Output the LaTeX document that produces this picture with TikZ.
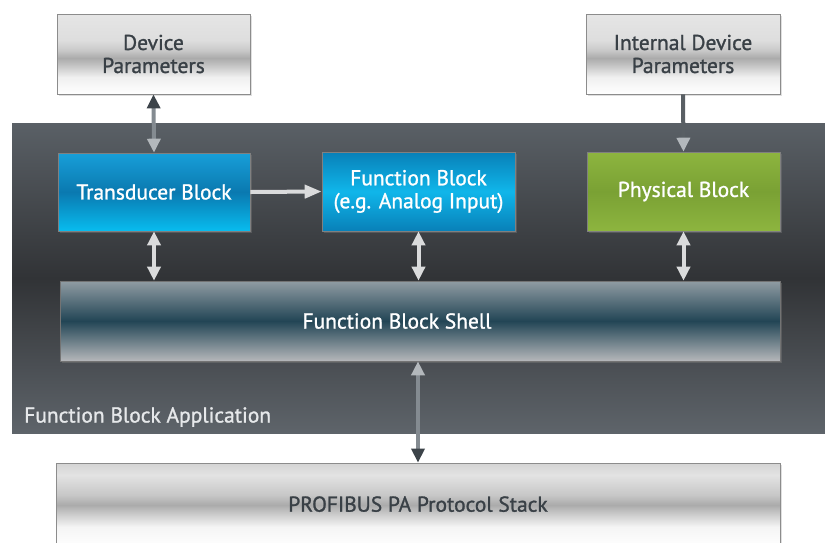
\documentclass[tikz,border=0pt]{standalone}
\usepackage{fontspec}
\setmainfont{PT Sans}[FakeBold=1.2]
\usetikzlibrary{arrows.meta,shadows}
\definecolor{txtdark}{HTML}{394046}
\definecolor{appTop}{HTML}{5A6066}
\definecolor{appMid}{HTML}{313336}
\definecolor{appBot}{HTML}{5E646A}
\definecolor{blueA}{HTML}{189FD8}
\definecolor{blueB}{HTML}{0A79B0}
\definecolor{blueC}{HTML}{08BCEF}
\definecolor{fbEdge}{HTML}{0880B8}
\definecolor{fbMid}{HTML}{10B6EA}
\definecolor{greenA}{HTML}{8DB53F}
\definecolor{greenB}{HTML}{7AA134}
\definecolor{shellTop}{HTML}{909CA3}
\definecolor{shellMid}{HTML}{224555}
\definecolor{shellBot}{HTML}{B5B7BA}
\definecolor{arrLight}{HTML}{DADBDC}
\definecolor{arrDark}{HTML}{3C4349}
\definecolor{arrMid}{HTML}{848B91}
\definecolor{arrPale}{HTML}{B3B8BC}
\definecolor{labelTxt}{HTML}{E6E8EA}
\pgfdeclareverticalshading{parband}{100bp}{%
  color(0bp)=(white); color(25bp)=(white);
  color(35.6bp)=(white!94!black);
  color(43.75bp)=(white!75!black);
  color(47.5bp)=(white!67!black);
  color(52.5bp)=(white!79!black);
  color(58.75bp)=(white!87!black);
  color(75bp)=(white!90!black); color(100bp)=(white!90!black)}
\pgfdeclareverticalshading{paband}{100bp}{%
  color(0bp)=(white); color(25bp)=(white);
  color(37.4bp)=(white!96!black);
  color(44.4bp)=(white!81!black);
  color(50.3bp)=(white!67!black);
  color(56.2bp)=(white!78!black);
  color(67.9bp)=(white!89!black);
  color(75bp)=(white!83!black); color(100bp)=(white!83!black)}
\tikzset{
  box/.style={inner sep=0pt, align=center, font=\fontsize{21.5}{23}\selectfont},
  greybox/.style={box, draw=black!45, line width=0.8pt, text=txtdark,
    shading=parband,
    drop shadow={shadow xshift=2pt, shadow yshift=-2pt, opacity=0.25}},
  bluebox/.style={box, draw=black!50, line width=0.6pt, text=white,
    drop shadow={shadow xshift=2pt, shadow yshift=-2pt, opacity=0.4}},
  tipLight/.tip={Triangle[width=13pt,length=14pt,color=arrLight]},
  tipDark/.tip={Triangle[width=13pt,length=14pt,color=arrDark]},
  tipPale/.tip={Triangle[width=13pt,length=14pt,color=arrPale]},
  lightarr/.style={line width=4pt, draw=arrLight},
}
\begin{document}
\begin{tikzpicture}[x=1pt,y=-1pt]
\useasboundingbox (0,0) rectangle (825,542);
\fill[white] (0,0) rectangle (825,542);
\begin{scope}
\clip (0,0) rectangle (825,542);

% application background
\node[inner sep=0pt, minimum width=813pt, minimum height=310pt,
      top color=appTop, bottom color=appBot, middle color=appMid]
      (app) at (418.5,278) {};
\node[anchor=west, inner sep=0pt, text=labelTxt, font=\fontsize{21.5}{23}\selectfont]
      (applbl) at (24,417) {Function Block Application};

% top parameter boxes
\node[greybox, minimum width=193pt, minimum height=80pt] (dev) at (153.5,54)
      {Device\\Parameters};
\node[greybox, minimum width=194pt, minimum height=80pt] (idev) at (683,54)
      {Internal Device\\Parameters};

% blocks
\node[bluebox, minimum width=192pt, minimum height=78pt,
      top color=blueA, bottom color=blueC, middle color=blueB] (trans) at (154,192)
      {Transducer Block};
\node[bluebox, minimum width=193pt, minimum height=79pt,
      top color=fbEdge, bottom color=fbEdge, middle color=fbMid] (fb) at (418.5,191.5)
      {Function Block\\(e.g. Analog Input)};
\node[bluebox, minimum width=193pt, minimum height=79pt,
      top color=greenA, bottom color=greenA, middle color=greenB] (phys) at (683.5,191.5)
      {Physical Block};

% shell
\node[box, draw=black!55, line width=0.6pt, text=white,
      minimum width=720pt, minimum height=80pt,
      top color=shellTop, bottom color=shellBot, middle color=shellMid,
      drop shadow={shadow xshift=2pt, shadow yshift=-2pt, opacity=0.4}]
      (shell) at (420,321) {\hspace*{-46pt}Function Block Shell};

% protocol stack
\node[greybox, shading=paband, minimum width=724pt, minimum height=85pt]
      (pa) at (418,505.5) {\raisebox{3pt}{PROFIBUS PA Protocol Stack}};
\end{scope}

% connectors
\draw[line width=4pt, draw=arrMid, tipDark-tipPale]
  (dev.south) -- (trans.north);
\draw[line width=4pt, draw=arrDark!85!white, -tipPale]
  (idev.south) -- (phys.north);
\draw[lightarr, -{Triangle[width=13pt,length=17pt,color=arrLight]}]
  (trans.east) -- (fb.west);
\draw[lightarr, tipLight-tipLight]
  (trans.south) -- (trans.south |- shell.north);
\draw[lightarr, tipLight-tipLight]
  (fb.south) -- (fb.south |- shell.north);
\draw[lightarr, tipLight-tipLight]
  (phys.south) -- (phys.south |- shell.north);
\draw[line width=4pt, draw=arrMid, tipPale-tipDark]
  (pa.north |- shell.south) -- (pa.north);
\end{tikzpicture}
\end{document}
